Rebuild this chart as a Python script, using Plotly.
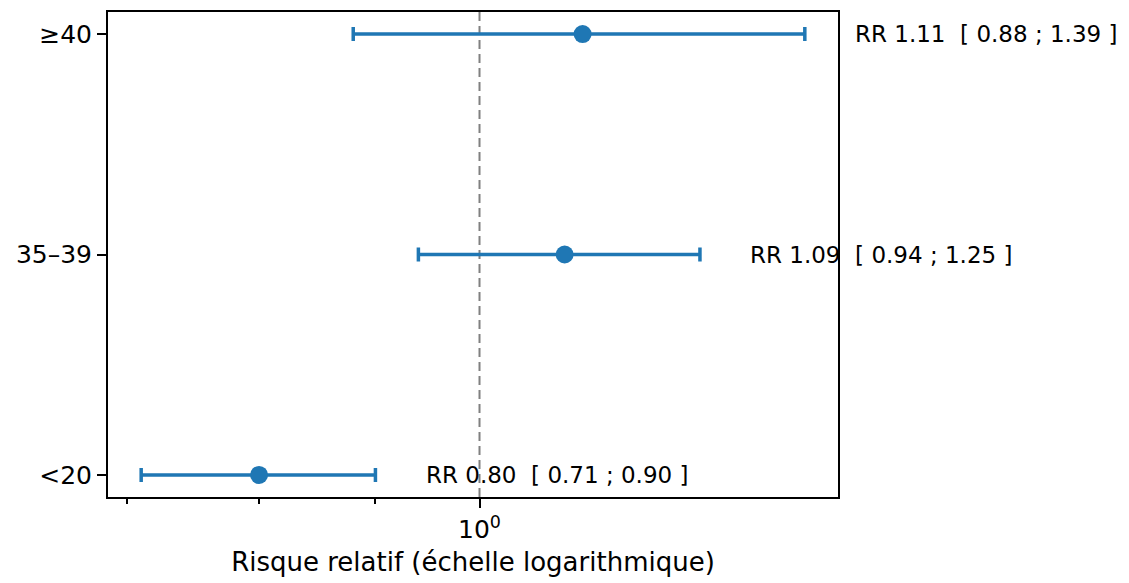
import numpy as np
import plotly.graph_objects as go

categories = ["<20", "35–39", "≥40"]
rr = [0.80, 1.09, 1.11]
ci_low = [0.71, 0.94, 0.88]
ci_high = [0.90, 1.25, 1.39]
minor_ticks = [0.7, 0.8, 0.9]

BLUE = "#1f77b4"
FONT = "DejaVu Sans"

ypos = list(range(len(categories)))
rr_a = np.array(rr)
lo_a = np.array(ci_low)
hi_a = np.array(ci_high)

lo_lim = np.log10(min(ci_low))
hi_lim = np.log10(max(ci_high))
pad = 0.05 * (hi_lim - lo_lim)
xr = [lo_lim - pad, hi_lim + pad]

fig = go.Figure()
fig.add_trace(go.Scatter(
    x=rr, y=ypos, mode="markers",
    marker=dict(color=BLUE, size=18),
    error_x=dict(type="data", symmetric=False,
                 array=list(hi_a - rr_a), arrayminus=list(rr_a - lo_a),
                 color=BLUE, thickness=3.5, width=7),
    showlegend=False,
))

# reference line at RR = 1
fig.add_shape(type="line", xref="x", yref="paper", x0=1, x1=1, y0=0, y1=1,
              line=dict(color="#808080", width=2, dash="9px,5px"), layer="below")

for i in range(len(categories)):
    label = f"RR {rr[i]:.2f}\u00a0\u00a0[ {ci_low[i]:.2f} ; {ci_high[i]:.2f} ]"
    xp = (np.log10(ci_high[i] * 1.05) - xr[0]) / (xr[1] - xr[0])
    fig.add_annotation(x=xp, y=ypos[i], xref="paper", yref="y",
                       text=label, showarrow=False, xanchor="left", yanchor="middle",
                       font=dict(family=FONT, size=23, color="black"))

fig.update_xaxes(
    type="log", range=xr,
    tickmode="array", tickvals=[1], ticktext=["10<sup>0</sup>"],
    ticks="outside", ticklen=9, tickwidth=2, tickcolor="black",
    showline=True, linecolor="black", linewidth=2, mirror=True,
    showgrid=False, zeroline=False,
    minor=dict(tickmode="array", tickvals=minor_ticks, ticks="outside",
               ticklen=5, tickwidth=1.5, tickcolor="black", showgrid=False),
    title=dict(text="Risque relatif (échelle logarithmique)",
               font=dict(family=FONT, size=26, color="black"), standoff=10),
    tickfont=dict(family=FONT, size=25, color="black"),
)
fig.update_yaxes(
    range=[-0.1, 2.1], tickmode="array", tickvals=ypos, ticktext=categories,
    ticks="outside", ticklen=9, tickwidth=2, tickcolor="black",
    showline=True, linecolor="black", linewidth=2, mirror=True,
    showgrid=False, zeroline=False,
    tickfont=dict(family=FONT, size=25, color="black"),
)
fig.update_layout(
    width=1129, height=583,
    margin=dict(l=108, r=291, t=10, b=86),
    plot_bgcolor="white", paper_bgcolor="white",
    font=dict(family=FONT, color="black"),
)
fig.write_html("out.html")
